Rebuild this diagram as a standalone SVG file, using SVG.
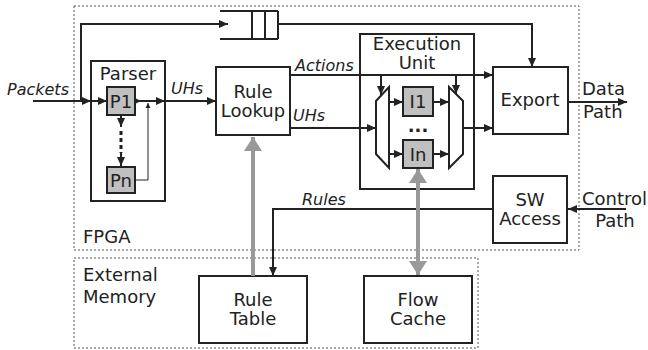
<svg xmlns="http://www.w3.org/2000/svg" width="648" height="350" viewBox="0 0 648 350">
<style>
text{font-family:"DejaVu Sans","Verdana",sans-serif;font-size:18px;fill:#222}
.it{font-style:italic;font-size:16px}
.c{text-anchor:middle}
.box{fill:#fff;stroke:#222;stroke-width:2}
.gbox{fill:#c0c0c0;stroke:#222;stroke-width:2}
.reg{fill:none;stroke:#555;stroke-width:1;stroke-dasharray:2,2}
.ln{fill:none;stroke:#222;stroke-width:2}
.thin{fill:none;stroke:#222;stroke-width:1}
.a{marker-end:url(#ah)}
.g{fill:none;stroke:#999;stroke-width:4}
</style>
<defs>
<marker id="ah" markerUnits="userSpaceOnUse" markerWidth="10" markerHeight="10" refX="9" refY="5" orient="auto"><path d="M0,1 L9,5 L0,9 z" fill="#222"/></marker>
<marker id="ahs" markerUnits="userSpaceOnUse" markerWidth="6" markerHeight="6" refX="5" refY="3" orient="auto"><path d="M0,0.5 L5,3 L0,5.5 z" fill="#222"/></marker>
<marker id="gah" markerUnits="userSpaceOnUse" markerWidth="16" markerHeight="20" refX="14" refY="9" orient="auto-start-reverse"><path d="M0,0 L14,9 L0,18 z" fill="#999"/></marker>
</defs>

<g id="fpga-region">
<rect class="reg" x="74" y="6" width="505" height="244"/>
<text x="83" y="243">FPGA</text>
</g>
<g id="external-memory-region">
<rect class="reg" x="74" y="258" width="404" height="90"/>
<text x="83" y="281">External</text>
<text x="83" y="303">Memory</text>
</g>

<g id="queue">
<path class="ln" d="M220,11 H278 M220,39 H278 M252,11 V39 M265,11 V39 M278,11 V39"/>
</g>

<g id="parser">
<rect class="box" x="91" y="61" width="74" height="140"/>
<text class="c" x="128" y="80">Parser</text>
</g>
<g id="p1">
<rect class="gbox" x="107" y="87" width="28" height="28"/>
<text class="c" x="121" y="108">P1</text>
</g>
<g id="pn">
<rect class="gbox" x="107" y="167" width="28" height="26"/>
<text class="c" x="121" y="187">Pn</text>
</g>

<g id="rule-lookup">
<rect class="box" x="216" y="67" width="74" height="68"/>
<text class="c" x="253" y="98">Rule</text>
<text class="c" x="253" y="117">Lookup</text>
</g>

<g id="execution-unit">
<rect class="box" x="360" y="34" width="114" height="155"/>
<text class="c" x="417" y="50">Execution</text>
<text class="c" x="417" y="69">Unit</text>
</g>
<g id="demux">
<polygon class="box" points="376,101 389,87 389,168 376,154"/>
</g>
<g id="mux">
<polygon class="box" points="449,87 463,101 463,154 449,168"/>
</g>
<g id="i1">
<rect class="gbox" x="403" y="87" width="30" height="29"/>
<text class="c" x="418" y="108">I1</text>
</g>
<g id="in">
<rect class="gbox" x="403" y="140" width="30" height="28"/>
<text class="c" x="418" y="161">In</text>
</g>
<g id="dots">
<text class="c" x="418" y="132" style="font-weight:bold">...</text>
</g>

<g id="export">
<rect class="box" x="493" y="67" width="75" height="67"/>
<text class="c" x="530" y="106">Export</text>
</g>
<g id="sw-access">
<rect class="box" x="493" y="176" width="74" height="67"/>
<text class="c" x="530" y="206">SW</text>
<text class="c" x="530" y="225">Access</text>
</g>
<g id="rule-table">
<rect class="box" x="199" y="276" width="108" height="67"/>
<text class="c" x="253" y="306">Rule</text>
<text class="c" x="253" y="325">Table</text>
</g>
<g id="flow-cache">
<rect class="box" x="364" y="276" width="108" height="67"/>
<text class="c" x="418" y="306">Flow</text>
<text class="c" x="418" y="325">Cache</text>
</g>

<g id="connectors">
<path class="ln a" d="M33,101 H91"/>
<path class="ln a" d="M91,101 H107"/>
<path class="ln a" d="M81,101 V24 H228"/>
<path class="ln a" d="M278,24 H532 V67"/>
<path class="ln a" d="M121,115 V127"/>
<path fill="none" stroke="#222" stroke-width="3" stroke-dasharray="4,3" d="M121,131 V153"/>
<path class="ln a" d="M121,152 V166"/>
<path class="ln" d="M135,101 H141" style="marker-end:url(#ahs)"/>
<path class="ln a" d="M141,101 H165"/>
<path class="thin" d="M135,180 H148 V103" style="marker-end:url(#ahs)"/>
<path class="ln a" d="M165,101 H216"/>
<path class="ln a" d="M290,75 H493"/>
<path class="ln a" d="M381,75 V95"/>
<path class="ln a" d="M456,75 V94"/>
<path class="ln a" d="M290,128 H376"/>
<path class="ln a" d="M389,102 H403"/>
<path class="ln a" d="M389,154 H403"/>
<path class="ln a" d="M433,102 H449"/>
<path class="ln a" d="M433,154 H449"/>
<path class="ln a" d="M463,128 H493"/>
<path class="ln a" d="M568,102 H627"/>
<path class="ln a" d="M626,209 H568"/>
<path class="ln a" d="M493,209 H273 V276"/>
<path class="g" d="M253,276 V137" style="marker-end:url(#gah)"/>
<path class="g" d="M418,169 V275" style="marker-start:url(#gah);marker-end:url(#gah)"/>
</g>

<g id="labels">
<text class="it" x="7" y="95">Packets</text>
<text class="it" x="171" y="94">UHs</text>
<text class="it" x="295" y="71">Actions</text>
<text class="it" x="293" y="121">UHs</text>
<text class="it" x="302" y="205">Rules</text>
<text x="582" y="95">Data</text>
<text x="583" y="118">Path</text>
<text x="582" y="205">Control</text>
<text class="c" x="615" y="227">Path</text>
</g>
</svg>
